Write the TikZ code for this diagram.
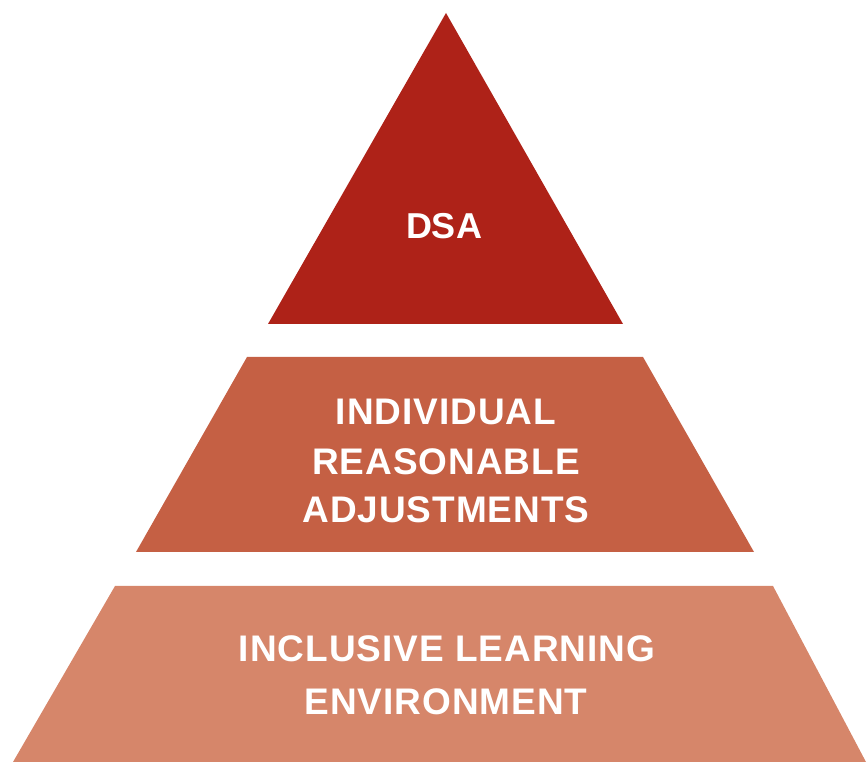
\documentclass[tikz,border=0pt]{standalone}
\usepackage{fontspec}
\setmainfont{Liberation Sans}
\newfontfamily\spacedfont[LetterSpace=2.6]{Liberation Sans}
\definecolor{topred}{HTML}{AE2218}
\definecolor{midred}{HTML}{C56044}
\definecolor{lowred}{HTML}{D6866A}
\begin{document}
\begin{tikzpicture}[x=1pt,y=1pt,
  lbl/.style={anchor=base,text=white,inner sep=0pt,font=\spacedfont\fontsize{37}{44}\selectfont\bfseries},
  toplbl/.style={anchor=base,text=white,inner sep=0pt,font=\fontsize{36}{44}\selectfont\bfseries}]
\useasboundingbox (0,0) rectangle (868,762);
% top triangle
\fill[topred] (446,749) -- (623,438) -- (268,438) -- cycle;
% middle trapezoid
\fill[midred] (247,405) -- (643,405) -- (754,210) -- (136,210) -- cycle;
% bottom trapezoid
\fill[lowred] (115,176) -- (773,176) -- (866,0) -- (13,0) -- cycle;
% labels
\node[toplbl] (dsa) at (444,523) {DSA};
\node[lbl] (ind1) at (446,337) {INDIVIDUAL};
\node[lbl] (ind2) at (446,287) {REASONABLE};
\node[lbl] (ind3) at (446,239) {ADJUSTMENTS};
\node[lbl] (inc1) at (447,100) {INCLUSIVE LEARNING};
\node[lbl] (inc2) at (446,47) {ENVIRONMENT};
\end{tikzpicture}
\end{document}
